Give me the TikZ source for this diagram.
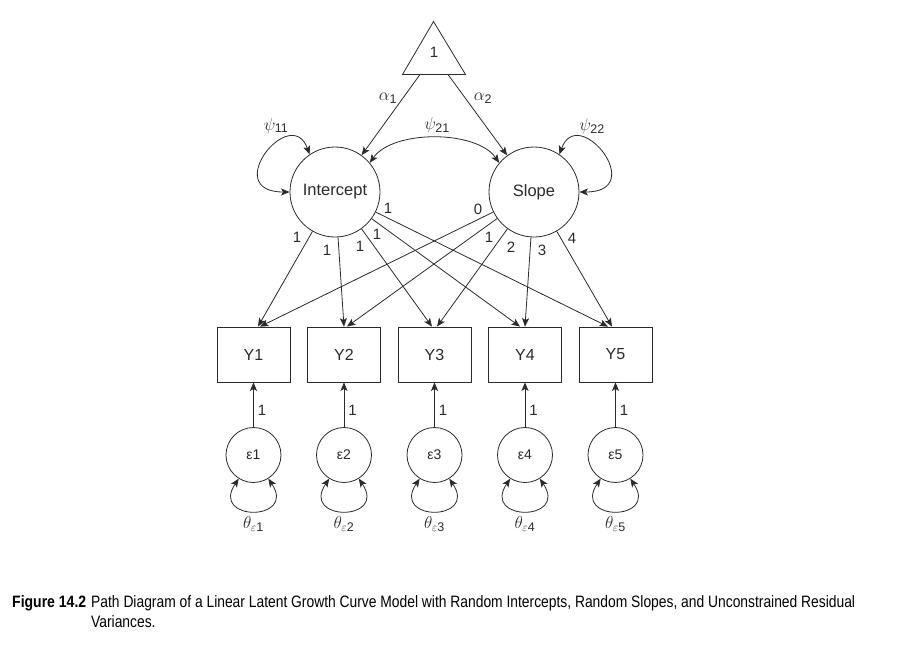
\documentclass[tikz,border=0pt]{standalone}
\usepackage{fontspec}
\setmainfont{Liberation Sans}
\setsansfont{Liberation Sans}
\usepackage{graphicx}
\usetikzlibrary{arrows.meta}
\newsavebox\capbox
\newlength\capw
\definecolor{ink}{HTML}{2A2A2A}
\tikzset{
  ln/.style={draw=ink, line width=0.8pt},
  arr/.style={ln, -{Stealth[length=8.5pt,width=7pt,inset=2pt]}},
  darr/.style={ln, {Stealth[length=8.5pt,width=7pt,inset=2pt]}-{Stealth[length=8.5pt,width=7pt,inset=2pt]}},
  latent/.style={circle, draw=ink, line width=0.8pt, minimum size=90pt, inner sep=0pt, text=ink, font=\fontsize{16.5}{19}\selectfont},
  obs/.style={rectangle, draw=ink, line width=0.8pt, minimum width=73pt, minimum height=55pt, inner sep=0pt, text=ink, font=\fontsize{16}{19}\selectfont},
  err/.style={circle, draw=ink, line width=0.8pt, minimum size=55pt, inner sep=0pt, text=ink, font=\fontsize{14}{16}\selectfont},
  lab/.style={inner sep=0pt, text=ink, font=\fontsize{15}{18}\selectfont},
  glab/.style={inner sep=0pt, text=ink, font=\fontsize{16.5}{19}\selectfont},
  captext/.style={inner sep=0pt, anchor=base west, text=black},
}
\begin{document}
\sbox\capbox{\fontsize{16.5}{19}\selectfont Path Diagram of a Linear Latent Growth Curve Model with Random Intercepts, Random Slopes, and Unconstrained Residual}%
\setlength\capw{\wd\capbox}%
\pgfmathsetmacro\capscale{764/\capw}%
\begin{tikzpicture}[x=1pt, y=-1pt]
\useasboundingbox (0,0) rectangle (898,656);
% constant triangle
\draw[ln] (433.5,21.5) -- (465.5,74.5) -- (402.5,74.5) -- cycle;
\node[lab] (one) at (434,52) {1};
\coordinate (a1) at (420,74.5);
\coordinate (a2) at (448,74.5);
% latent factors
\node[latent] (I) at (335,192) {Intercept};
\node[latent] (S) at (534,192) {Slope};
% observed and errors
\foreach \i/\x in {1/253.5, 2/344, 3/434.5, 4/525, 5/615.5} {
  \node[obs] (Y\i) at (\x,354.5) {Y\i};
  \node[err] (e\i) at (\x,455) {ε\i};
  \draw[arr] (e\i) -- (Y\i);
  \node[lab] (w\i) at (\x+8.5,410) {1};
  \draw[darr] (e\i.-122) .. controls +(-124:52pt) and +(-56:52pt) .. (e\i.-58);
  \node[glab] (t\i) at (\x,524) {$\theta_{\varepsilon\textsf{\fontsize{12.5}{14}\selectfont\i}}$};
}
% means
\draw[arr] (a1) -- (I);
\draw[arr] (a2) -- (S);
\node[glab] (al1) at (388,98) {$\alpha_{\textsf{\fontsize{12.5}{14}\selectfont 1}}$};
\node[glab] (al2) at (483,98) {$\alpha_{\textsf{\fontsize{12.5}{14}\selectfont 2}}$};
% variances and covariance
\draw[darr] (I.124) .. controls +(110:55pt) and +(180:70pt) .. (I.180);
\draw[darr] (S.56) .. controls +(70:55pt) and +(0:70pt) .. (S.0);
\draw[darr] (I.40) to[out=55, in=125, looseness=0.8] (S.140);
\node[glab] (p11) at (276,126) {$\psi_{\textsf{\fontsize{12.5}{14}\selectfont 11}}$};
\node[glab] (p21) at (437,125) {$\psi_{\textsf{\fontsize{12.5}{14}\selectfont 21}}$};
\node[glab] (p22) at (592,126) {$\psi_{\textsf{\fontsize{12.5}{14}\selectfont 22}}$};
% loadings
\foreach \i/\dx in {1/4.5, 2/0, 3/-2.5, 4/-5, 5/-7.5}
  \draw[arr] (I) -- ([xshift=\dx pt]Y\i.north);
\foreach \i/\dx in {1/6.5, 2/3, 3/2.5, 4/0, 5/-3.5}
  \draw[arr] (S) -- ([xshift=\dx pt]Y\i.north);
\node[lab] (li1) at (297,237) {1};
\node[lab] (li2) at (327,250) {1};
\node[lab] (li3) at (360,246) {1};
\node[lab] (li4) at (377,234) {1};
\node[lab] (li5) at (388,208) {1};
\node[lab] (ls1) at (478,209) {0};
\node[lab] (ls2) at (489,237) {1};
\node[lab] (ls3) at (511,247) {2};
\node[lab] (ls4) at (542,250) {3};
\node[lab] (ls5) at (572,238) {4};
% caption
\node[captext] (cap1) at (12,607.5) {\resizebox{74pt}{\height}{\fontsize{16.5}{19}\selectfont\bfseries Figure 14.2}};
\node[captext] (cap2) at (91,607.5) {\scalebox{\capscale}[1]{\usebox\capbox}};
\node[captext] (cap3) at (91,627) {\scalebox{\capscale}[1]{\fontsize{16.5}{19}\selectfont Variances.}};
\end{tikzpicture}
\end{document}
